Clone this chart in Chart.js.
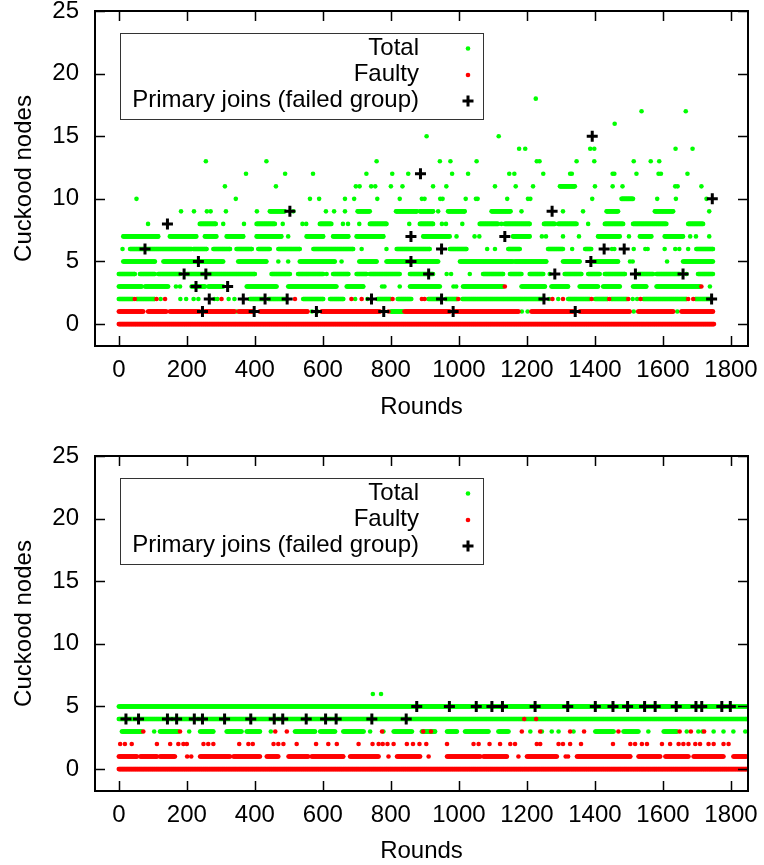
<!DOCTYPE html>
<html>
<head>
<meta charset="utf-8">
<script src="https://cdn.jsdelivr.net/npm/chart.js@4.4.1/dist/chart.umd.min.js"></script>
<style>
  html, body { margin: 0; padding: 0; background: #fff; }
  .wrap { position: absolute; left: 0; width: 764px; }
  #top { top: 0; height: 432px; }
  #bottom { top: 432px; height: 433px; }
</style>
</head>
<body>
<div class="wrap" id="top"><canvas id="chartTop"></canvas></div>
<div class="wrap" id="bottom"><canvas id="chartBottom"></canvas></div>
<script>
// runs: [value, firstRound, lastRound] or [value, round] for a single dot
const xTicks = [0, 200, 400, 600, 800, 1000, 1200, 1400, 1600, 1800];
const yTicks = [0, 5, 10, 15, 20, 25];

// ---- upper plot ----
const topTotal = [
  [1, 346], [1, 568], [1, 584], [1, 800, 836], [1, 1185], [1, 1202], [1, 1514], [1, 1642],
  [2, 0, 42], [2, 52, 105], [2, 123], [2, 181], [2, 198], [2, 220], [2, 234], [2, 281], [2, 290], [2, 323], [2, 340],
  [2, 385, 425], [2, 440, 493], [2, 542, 601], [2, 621, 660], [2, 695], [2, 731], [2, 760, 800],
  [2, 820, 860], [2, 910, 948], [2, 960, 995], [2, 1010, 1248], [2, 1265], [2, 1292],
  [2, 1321, 1385], [2, 1400, 1437], [2, 1447, 1495], [2, 1511], [2, 1524], [2, 1542, 1669], [2, 1695, 1740],
  [3, 0, 67], [3, 77, 145], [3, 168], [3, 180], [3, 214, 253], [3, 263, 307], [3, 376, 464], [3, 498, 640],
  [3, 670, 719], [3, 774], [3, 781], [3, 826], [3, 856, 944], [3, 984], [3, 992], [3, 1012, 1130], [3, 1184, 1253],
  [3, 1272, 1321], [3, 1355, 1409], [3, 1424, 1473], [3, 1512, 1551], [3, 1581, 1708], [3, 1738],
  [4, 0, 47], [4, 62, 106], [4, 116, 180], [4, 199, 400], [4, 449, 503], [4, 527, 601], [4, 611],
  [4, 630, 675], [4, 699, 728], [4, 738, 826], [4, 856, 924], [4, 964], [4, 977], [4, 1032], [4, 1071, 1130],
  [4, 1150, 1184], [4, 1208, 1248], [4, 1267], [4, 1311, 1360], [4, 1380, 1414], [4, 1429, 1488],
  [4, 1527, 1571], [4, 1581, 1649], [4, 1669], [4, 1703, 1747],
  [5, 13, 106], [5, 131, 307], [5, 351, 434], [5, 469], [5, 498], [5, 532, 635], [5, 655],
  [5, 707, 758], [5, 787, 939], [5, 1003, 1159], [5, 1164, 1257], [5, 1306, 1355], [5, 1395, 1468],
  [5, 1503], [5, 1511], [5, 1612], [5, 1659, 1747],
  [6, 11], [6, 33, 72], [6, 82, 214], [6, 219, 258], [6, 278, 327], [6, 346, 391], [6, 410, 444],
  [6, 469, 532], [6, 572, 689], [6, 714], [6, 787], [6, 817, 914], [6, 973, 1022], [6, 1083],
  [6, 1106], [6, 1145, 1179], [6, 1262, 1306], [6, 1333], [6, 1371, 1389], [6, 1450], [6, 1457],
  [6, 1514], [6, 1548], [6, 1555], [6, 1605], [6, 1636], [6, 1648], [6, 1674], [6, 1698, 1747],
  [7, 13, 116], [7, 150, 228], [7, 253, 287], [7, 317, 366], [7, 405, 478], [7, 498], [7, 552, 601],
  [7, 630, 675], [7, 699, 778], [7, 895, 973], [7, 993], [7, 1046], [7, 1060], [7, 1159, 1208],
  [7, 1244], [7, 1256], [7, 1306], [7, 1353], [7, 1409, 1473], [7, 1500], [7, 1532, 1566],
  [7, 1605, 1659], [7, 1680], [7, 1697], [7, 1736],
  [8, 86], [8, 238, 285], [8, 307], [8, 368], [8, 405, 459], [8, 482], [8, 540], [8, 551], [8, 591, 625],
  [8, 659], [8, 674], [8, 707], [8, 738, 787], [8, 854], [8, 885, 924], [8, 950], [8, 962], [8, 1010],
  [8, 1061, 1115], [8, 1125], [8, 1135, 1208], [8, 1250, 1282], [8, 1292, 1346], [8, 1380],
  [8, 1429, 1483], [8, 1512, 1610], [8, 1674, 1718],
  [9, 183], [9, 221], [9, 259], [9, 270], [9, 315], [9, 406], [9, 444, 488], [9, 513], [9, 609],
  [9, 633], [9, 665], [9, 702, 738], [9, 815, 876], [9, 885, 924], [9, 939], [9, 968, 1017],
  [9, 1096, 1152], [9, 1184], [9, 1306], [9, 1365], [9, 1434, 1468], [9, 1576, 1630], [9, 1736],
  [10, 52], [10, 344], [10, 562], [10, 589], [10, 665], [10, 692], [10, 760], [10, 826], [10, 891], [10, 899],
  [10, 945], [10, 952], [10, 1020], [10, 1050], [10, 1055], [10, 1142], [10, 1203], [10, 1210], [10, 1392],
  [10, 1478, 1512], [10, 1583], [10, 1638], [10, 1728],
  [11, 312], [11, 462], [11, 697], [11, 708], [11, 742], [11, 754], [11, 800], [11, 834], [11, 924], [11, 963],
  [11, 1106], [11, 1167], [11, 1218], [11, 1297, 1341], [11, 1400], [11, 1452], [11, 1481],
  [11, 1636], [11, 1643], [11, 1713],
  [12, 374], [12, 489], [12, 571], [12, 728], [12, 804], [12, 851], [12, 980], [12, 1027],
  [12, 1148], [12, 1163], [12, 1248], [12, 1327], [12, 1332], [12, 1452], [12, 1457], [12, 1522],
  [12, 1587], [12, 1594], [12, 1672],
  [13, 256], [13, 434], [13, 758], [13, 944], [13, 975], [13, 1052], [13, 1229], [13, 1237], [13, 1346],
  [13, 1398], [13, 1514], [13, 1564], [13, 1589],
  [14, 1177], [14, 1195], [14, 1386], [14, 1398], [14, 1637], [14, 1687],
  [15, 905], [15, 1117],
  [16, 1458],
  [17, 1537], [17, 1667],
  [18, 1226]
];
const topFaulty = [
  [0, 0, 1750],
  [1, 0, 72], [1, 86, 140], [1, 150, 238], [1, 253, 340], [1, 352, 395], [1, 414, 555], [1, 596, 768],
  [1, 793], [1, 840, 973], [1, 988, 1175], [1, 1213, 1336], [1, 1355, 1502], [1, 1527, 1630],
  [1, 1654, 1747],
  [2, 47], [2, 111], [2, 136], [2, 302], [2, 518], [2, 684], [2, 714], [2, 805], [2, 891], [2, 899], [2, 998],
  [2, 1275], [2, 1306], [2, 1390], [2, 1442], [2, 1498], [2, 1534], [2, 1674], [2, 1689],
  [3, 1135], [3, 1713]
];
const topJoins = [
  [6, 77], [8, 143], [4, 192], [3, 227], [5, 234], [1, 246], [4, 256], [2, 266], [3, 320], [2, 366],
  [1, 398], [2, 430], [2, 495], [9, 503], [1, 581], [2, 743], [1, 779], [7, 859], [5, 859], [12, 887],
  [4, 911], [6, 949], [2, 949], [1, 983], [7, 1135], [2, 1250], [9, 1274], [4, 1282], [1, 1342],
  [5, 1388], [15, 1392], [6, 1427], [6, 1486], [4, 1519], [4, 1659], [10, 1745], [2, 1743]
];

// ---- lower plot ----
const bottomTotal = [
  [6, 747], [6, 771],
  [5, 0, 1845],
  [4, 0, 1845],
  [3, 9, 67], [3, 104], [3, 121, 175], [3, 207], [3, 239, 278], [3, 317, 361], [3, 376, 415],
  [3, 447], [3, 518, 577], [3, 592, 636], [3, 660, 720], [3, 739], [3, 778], [3, 808, 862], [3, 891, 930],
  [3, 965, 994], [3, 1018, 1087], [3, 1116, 1146], [3, 1210], [3, 1244], [3, 1273], [3, 1293],
  [3, 1337], [3, 1401, 1455], [3, 1484, 1528], [3, 1557], [3, 1602, 1641], [3, 1670],
  [3, 1704], [3, 1716], [3, 1749], [3, 1778], [3, 1807], [3, 1842]
];
const bottomFaulty = [
  [0, 0, 1845],
  [1, 0, 53], [1, 63, 112], [1, 121, 165], [1, 201], [1, 213], [1, 239, 327], [1, 337, 415], [1, 435, 469],
  [1, 499, 557], [1, 567, 660], [1, 680, 764], [1, 793], [1, 818, 886], [1, 911], [1, 965, 1063],
  [1, 1072, 1141], [1, 1175], [1, 1200, 1288], [1, 1314], [1, 1321], [1, 1347, 1504], [1, 1528, 1592],
  [1, 1607, 1675], [1, 1690, 1778], [1, 1807, 1845],
  [2, 4], [2, 18], [2, 38], [2, 112], [2, 151], [2, 175], [2, 190], [2, 200], [2, 249], [2, 263], [2, 278],
  [2, 354], [2, 381], [2, 394], [2, 455], [2, 469], [2, 484], [2, 523], [2, 580], [2, 616], [2, 641],
  [2, 705], [2, 746], [2, 764], [2, 776], [2, 790], [2, 808], [2, 847], [2, 865], [2, 884], [2, 904],
  [2, 965], [2, 1043], [2, 1058], [2, 1090], [2, 1121], [2, 1151], [2, 1165], [2, 1229], [2, 1239],
  [2, 1293], [2, 1306], [2, 1327], [2, 1359], [2, 1453], [2, 1504], [2, 1518], [2, 1538], [2, 1553],
  [2, 1597], [2, 1621], [2, 1646], [2, 1660], [2, 1675], [2, 1695], [2, 1709], [2, 1734], [2, 1749],
  [2, 1778], [2, 1793],
  [3, 72], [3, 180], [3, 460], [3, 494], [3, 774], [3, 895], [3, 918], [3, 1185], [3, 1239], [3, 1327],
  [3, 1368], [3, 1469], [3, 1649], [3, 1682], [3, 1721],
  [4, 1192], [4, 1227]
];
const bottomJoins = [
  [4, 21], [4, 58], [4, 143], [4, 170], [4, 222], [4, 246], [4, 311], [4, 388], [4, 457], [4, 482],
  [4, 551], [4, 608], [4, 639], [4, 744], [4, 845],
  [5, 876], [5, 972], [5, 1051], [5, 1097], [5, 1128], [5, 1224], [5, 1320], [5, 1401], [5, 1453],
  [5, 1496], [5, 1546], [5, 1577], [5, 1639], [5, 1697], [5, 1714], [5, 1773], [5, 1798]
];

const FONT = '"Liberation Sans", Arial, Helvetica, sans-serif';

// each run covers consecutive rounds that had the same value
function toPoints(runs) {
  const pts = [];
  runs.forEach(r => {
    const v = r[0], a = r[1], b = r.length > 2 ? r[2] : r[1];
    for (let x = a; x <= b; x += 2) pts.push({ x: x, y: v });
    if ((b - a) % 2) pts.push({ x: b, y: v });
  });
  return pts;
}

// gnuplot style border, inward ticks and key box
const gnuFrame = {
  id: 'gnuFrame',
  afterDraw(chart) {
    const ctx = chart.ctx, a = chart.chartArea;
    const xs = chart.scales.x, ys = chart.scales.y;
    ctx.save();
    ctx.strokeStyle = '#000';
    ctx.lineWidth = 1.5;
    ctx.beginPath();
    xTicks.forEach(t => {
      const px = Math.round(xs.getPixelForValue(t)) + 0.5;
      ctx.moveTo(px, a.bottom); ctx.lineTo(px, a.bottom - 10);
      ctx.moveTo(px, a.top); ctx.lineTo(px, a.top + 10);
    });
    yTicks.forEach(t => {
      const py = Math.round(ys.getPixelForValue(t)) + 0.5;
      ctx.moveTo(a.left, py); ctx.lineTo(a.left + 10, py);
      ctx.moveTo(a.right, py); ctx.lineTo(a.right - 10, py);
    });
    ctx.stroke();
    ctx.lineWidth = 2;
    ctx.strokeRect(a.left, a.top, a.right - a.left, a.bottom - a.top);

    // key
    const bx = a.left + 25, by = a.top + 22;
    ctx.lineWidth = 1;
    ctx.strokeStyle = '#333';
    ctx.strokeRect(bx + 0.5, by + 0.5, 363, 86);
    ctx.fillStyle = '#000';
    ctx.font = '24px ' + FONT;
    ctx.textAlign = 'right';
    ctx.textBaseline = 'middle';
    const textRows = [15, 41.5, 67];
    const symRows = [15.5, 42, 68];
    const labels = chart.data.datasets.map(d => d.label);
    labels.forEach((l, i) => ctx.fillText(l, bx + 299, by + textRows[i]));
    const sx = bx + 348;
    ctx.fillStyle = '#00ff00';
    ctx.beginPath(); ctx.arc(sx, by + symRows[0], 2.3, 0, Math.PI * 2); ctx.fill();
    ctx.fillStyle = '#ff0000';
    ctx.beginPath(); ctx.arc(sx, by + symRows[1], 2.3, 0, Math.PI * 2); ctx.fill();
    ctx.strokeStyle = '#000';
    ctx.lineWidth = 3;
    ctx.beginPath();
    ctx.moveTo(sx - 5.5, by + symRows[2]); ctx.lineTo(sx + 5.5, by + symRows[2]);
    ctx.moveTo(sx, by + symRows[2] - 5.5); ctx.lineTo(sx, by + symRows[2] + 5.5);
    ctx.stroke();
    ctx.restore();
  }
};

function noPad(s) {
  s.paddingLeft = 0; s.paddingRight = 0; s.paddingTop = 0; s.paddingBottom = 0;
}

function makeChart(id, total, faulty, joins, cfg) {
  return new Chart(document.getElementById(id), {
    type: 'scatter',
    data: {
      datasets: [
        { label: 'Total', data: toPoints(total), backgroundColor: '#00ff00', borderWidth: 0, pointRadius: 2.3, order: 3 },
        { label: 'Faulty', data: toPoints(faulty), backgroundColor: '#ff0000', borderWidth: 0, pointRadius: 2.3, order: 2 },
        {
          label: 'Primary joins (failed group)',
          data: joins.map(j => ({ x: j[1], y: j[0] })),
          pointStyle: 'cross', pointRadius: 5.5, borderWidth: 3, borderColor: '#000', order: 1
        }
      ]
    },
    options: {
      animation: false,
      responsive: true,
      maintainAspectRatio: false,
      events: [],
      layout: { padding: { left: 0, right: 16, top: cfg.top, bottom: 0 } },
      plugins: { legend: { display: false }, tooltip: { enabled: false } },
      scales: {
        x: {
          type: 'linear', min: -70, max: 1850,
          grid: { display: false, drawTicks: false }, border: { display: false },
          afterBuildTicks: s => { s.ticks = xTicks.map(v => ({ value: v })); },
          afterFit: s => { s.height = cfg.xHeight; noPad(s); },
          ticks: {
            color: '#000', padding: 10, maxRotation: 0, autoSkip: false,
            font: { family: FONT, size: 24 }, callback: v => String(v)
          },
          title: { display: true, text: 'Rounds', color: '#000', font: { family: FONT, size: 24, lineHeight: 1.1 }, padding: { top: 0, bottom: cfg.titlePad } }
        },
        y: {
          type: 'linear', min: -1.75, max: 25,
          grid: { display: false, drawTicks: false }, border: { display: false },
          afterBuildTicks: s => { s.ticks = yTicks.map(v => ({ value: v })); },
          afterFit: s => { s.width = 95; noPad(s); },
          ticks: { color: '#000', padding: 16, font: { family: FONT, size: 24 }, callback: v => String(v) },
          title: { display: true, text: 'Cuckood nodes', color: '#000', font: { family: FONT, size: 24, lineHeight: 1.2 }, padding: { top: 10, bottom: 0 } }
        }
      }
    },
    plugins: [gnuFrame]
  });
}

makeChart('chartTop', topTotal, topFaulty, topJoins, { top: 11, xHeight: 86, titlePad: 11 });
makeChart('chartBottom', bottomTotal, bottomFaulty, bottomJoins, { top: 24, xHeight: 74, titlePad: 0 });
</script>
</body>
</html>
